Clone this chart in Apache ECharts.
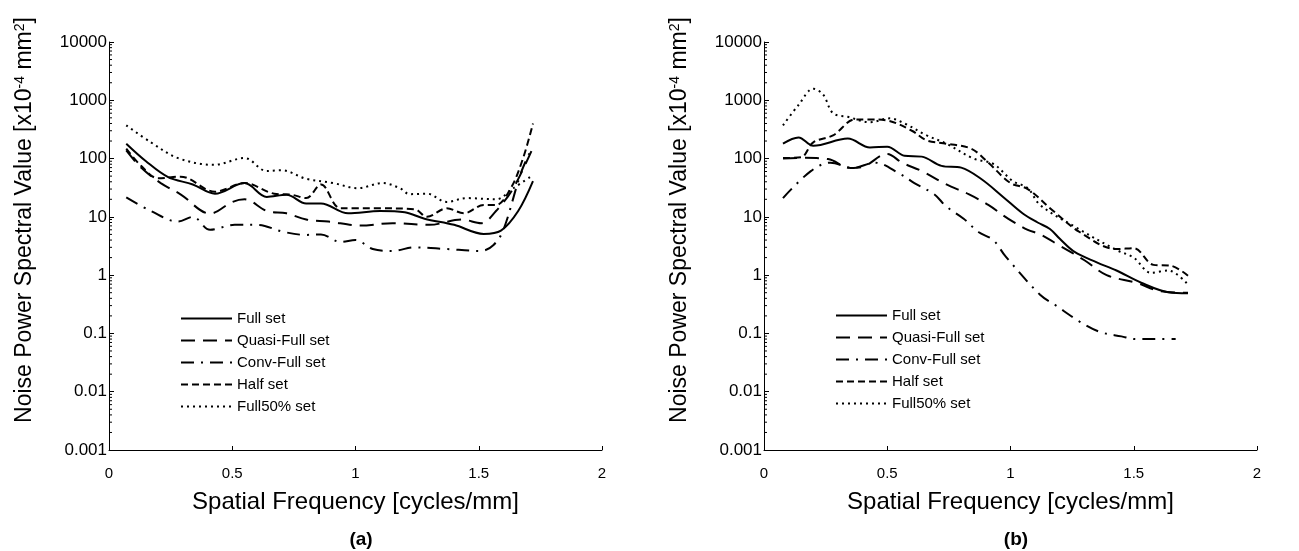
<!DOCTYPE html>
<html>
<head>
<meta charset="utf-8">
<script src="https://cdn.jsdelivr.net/npm/echarts@6/dist/echarts.min.js"></script>
<style>
  html, body { margin: 0; padding: 0; background: #fff; }
  #chart { width: 1299px; height: 551px; }
</style>
</head>
<body>
<div id="chart"></div>
<script>
// NPS curves: [spatial frequency (cycles/mm), NPS (x10^-4 mm^2)]
const SERIES_NAMES = ['Full set', 'Quasi-Full set', 'Conv-Full set', 'Half set', 'Full50% set'];

// (a)
const aFull = [[0.07, 180], [0.15, 90], [0.24, 48], [0.34, 36], [0.43, 25], [0.55, 38], [0.64, 22], [0.72, 24], [0.80, 17], [0.86, 17], [0.97, 11.5], [1.10, 12.6], [1.20, 12], [1.28, 9.3], [1.40, 7.3], [1.52, 5.1], [1.59, 5.8], [1.66, 12.6], [1.72, 41]];
const aQuasi = [[0.07, 138], [0.13, 70], [0.21, 38], [0.29, 24.4], [0.41, 11.4], [0.50, 18], [0.55, 20], [0.64, 12.6], [0.72, 11.5], [0.80, 9], [0.89, 8.3], [1.02, 7.1], [1.15, 7.8], [1.30, 7.3], [1.43, 9], [1.51, 7.8], [1.57, 12.6], [1.64, 31], [1.72, 155]];
const aConv = [[0.07, 21.5], [0.17, 12.6], [0.28, 8.3], [0.34, 10], [0.41, 6.0], [0.51, 7.3], [0.60, 7.3], [0.71, 5.5], [0.80, 4.9], [0.86, 5.0], [0.94, 3.7], [1.00, 4.0], [1.07, 2.8], [1.15, 2.6], [1.24, 3.0], [1.37, 2.8], [1.51, 2.6], [1.56, 3.3], [1.60, 6], [1.67, 55], [1.71, 135]];
const aHalf = [[0.07, 148], [0.13, 75], [0.20, 46], [0.29, 49], [0.43, 27], [0.55, 38], [0.67, 25], [0.74, 24], [0.80, 21], [0.86, 36], [0.94, 14], [1.10, 14], [1.24, 13.5], [1.29, 10], [1.37, 14], [1.44, 11.5], [1.52, 16], [1.57, 16], [1.63, 31], [1.68, 102], [1.72, 400]];
const aFull50 = [[0.07, 372], [0.17, 190], [0.28, 102], [0.425, 78], [0.55, 102], [0.64, 61], [0.70, 63], [0.80, 45], [0.91, 38], [1.01, 31], [1.11, 38], [1.18, 31], [1.22, 24.5], [1.29, 25], [1.37, 18], [1.45, 21], [1.57, 20], [1.64, 31], [1.72, 52]];

// (b)
const bFull = [[0.077, 180], [0.14, 230], [0.20, 166], [0.34, 220], [0.43, 155], [0.50, 160], [0.57, 112], [0.64, 108], [0.72, 75], [0.80, 70], [0.88, 45], [0.97, 22], [1.05, 11.4], [1.11, 8], [1.16, 6.2], [1.20, 4.2], [1.26, 2.5], [1.35, 1.66], [1.43, 1.2], [1.53, 0.74], [1.64, 0.51], [1.72, 0.49]];
const bQuasi = [[0.077, 100], [0.16, 103], [0.26, 98], [0.35, 69], [0.40, 72], [0.50, 120], [0.56, 85], [0.64, 61], [0.74, 36], [0.83, 24.5], [0.91, 16], [0.99, 9.3], [1.07, 6.0], [1.12, 5.0], [1.20, 3.2], [1.30, 1.8], [1.39, 1.0], [1.51, 0.74], [1.61, 0.53], [1.72, 0.5]];
const bConv = [[0.077, 21], [0.19, 61], [0.27, 85], [0.36, 69], [0.45, 85], [0.55, 55], [0.61, 38], [0.69, 24.5], [0.74, 15], [0.81, 9.3], [0.87, 5.5], [0.93, 4.0], [0.98, 2.1], [1.12, 0.46], [1.18, 0.31], [1.28, 0.16], [1.36, 0.107], [1.45, 0.089], [1.51, 0.08], [1.59, 0.08], [1.67, 0.08]];
const bHalf = [[0.077, 102], [0.15, 105], [0.20, 190], [0.28, 250], [0.37, 470], [0.43, 470], [0.50, 450], [0.60, 300], [0.66, 205], [0.74, 180], [0.84, 148], [0.91, 85], [1.00, 38], [1.07, 30], [1.17, 13], [1.28, 5.5], [1.43, 2.8], [1.50, 2.9], [1.58, 1.5], [1.65, 1.45], [1.72, 0.98]];
const bFull50 = [[0.077, 372], [0.14, 830], [0.20, 1580], [0.24, 1250], [0.28, 600], [0.34, 520], [0.43, 420], [0.51, 490], [0.57, 400], [0.66, 250], [0.74, 180], [0.85, 100], [0.93, 81], [1.01, 41], [1.07, 31], [1.12, 16], [1.26, 6.8], [1.43, 2.7], [1.50, 2.0], [1.57, 1.1], [1.64, 1.2], [1.72, 0.69]];

const X_TICKS = [0, 0.5, 1, 1.5, 2];
const Y_MIN = 0.001;
const Y_MAX = 10000;

// line dash per set
const DASH = {
  'Full set': 'solid',
  'Quasi-Full set': [14, 8],
  'Conv-Full set': [13, 7, 2, 7],
  'Half set': [7, 4],
  'Full50% set': [2, 4],
};

const PANELS = [
  { data: [aFull, aQuasi, aConv, aHalf, aFull50] },
  { data: [bFull, bQuasi, bConv, bHalf, bFull50] },
];

// log minor ticks 2..9 per decade
const minorTicks = [];
for (let k = -3; k < 4; k++) {
  for (let m = 2; m <= 9; m++) minorTicks.push([0, +(m * Math.pow(10, k)).toPrecision(2)]);
}

const FONT = 'Liberation Sans, Arial, Helvetica, sans-serif';
const GRID_LEFTS = [109, 764];

const chart = echarts.init(document.getElementById('chart'), null, { renderer: 'canvas' });

const grids = GRID_LEFTS.map((left) => ({ left, top: 42, width: 493, height: 408, containLabel: false }));

const xAxes = GRID_LEFTS.map((_, i) => ({
  gridIndex: i,
  type: 'value',
  min: X_TICKS[0],
  max: X_TICKS[X_TICKS.length - 1],
  interval: 0.5,
  name: 'Spatial Frequency [cycles/mm]',
  nameLocation: 'middle',
  nameGap: 40,
  nameTextStyle: { fontFamily: FONT, fontSize: 24, color: '#000' },
  axisLine: { lineStyle: { color: '#000', width: 1 } },
  axisTick: { inside: true, length: 4, lineStyle: { color: '#000' } },
  axisLabel: { fontFamily: FONT, fontSize: 15, color: '#000', margin: 16 },
  splitLine: { show: false },
}));

const yAxes = GRID_LEFTS.map((_, i) => ({
  gridIndex: i,
  type: 'log',
  logBase: 10,
  min: Y_MIN,
  max: Y_MAX,
  name: 'Noise Power Spectral Value [x10{sup|-4} mm{sup|2}]',
  nameLocation: 'middle',
  nameGap: 73,
  nameTextStyle: {
    fontFamily: FONT, fontSize: 23, color: '#000',
    padding: [0, 0, 0, 52],
    rich: { sup: { fontFamily: FONT, fontSize: 14, verticalAlign: 'top', lineHeight: 23, color: '#000' } },
  },
  axisLine: { show: true, lineStyle: { color: '#000', width: 1 } },
  axisTick: { inside: true, length: 5, lineStyle: { color: '#000' } },
  axisLabel: {
    fontFamily: FONT, fontSize: 17, color: '#000', margin: 2,
    formatter: (v) => String(Number(v.toPrecision(1))),
  },
  splitLine: { show: false },
}));

const series = [];
PANELS.forEach((panel, p) => {
  panel.data.forEach((points, s) => {
    const name = SERIES_NAMES[s];
    series.push({
      name,
      type: 'line',
      xAxisIndex: p,
      yAxisIndex: p,
      data: points,
      smooth: 0.35,
      symbol: 'none',
      lineStyle: { color: '#000', width: 2, type: DASH[name] },
      itemStyle: { color: '#000' },
    });
  });
  series.push({
    type: 'custom',
    xAxisIndex: p,
    yAxisIndex: p,
    data: minorTicks,
    clip: false,
    silent: true,
    renderItem: (params, api) => {
      const pt = api.coord([api.value(0), api.value(1)]);
      return {
        type: 'line',
        shape: { x1: pt[0], y1: pt[1], x2: pt[0] + 3, y2: pt[1] },
        style: { stroke: '#000', lineWidth: 1 },
      };
    },
  });
});

const legends = [175, 830].map((left, i) => ({
  data: SERIES_NAMES,
  orient: 'vertical',
  left,
  top: i === 0 ? 306 : 303,
  itemWidth: 51,
  itemHeight: 14,
  itemGap: 7,
  selectedMode: false,
  itemStyle: { opacity: 0, color: 'rgba(0,0,0,0)', borderWidth: 0 },
  textStyle: { fontFamily: FONT, fontSize: 15, color: '#000' },
}));

chart.setOption({
  animation: false,
  backgroundColor: '#fff',
  title: [
    { text: '(a)', left: 361, top: 530, textAlign: 'center', padding: 0, textStyle: { fontFamily: FONT, fontSize: 19, fontWeight: 'bold', color: '#000' } },
    { text: '(b)', left: 1016, top: 530, textAlign: 'center', padding: 0, textStyle: { fontFamily: FONT, fontSize: 19, fontWeight: 'bold', color: '#000' } },
  ],
  grid: grids,
  xAxis: xAxes,
  yAxis: yAxes,
  legend: legends,
  series,
});
</script>
</body>
</html>
